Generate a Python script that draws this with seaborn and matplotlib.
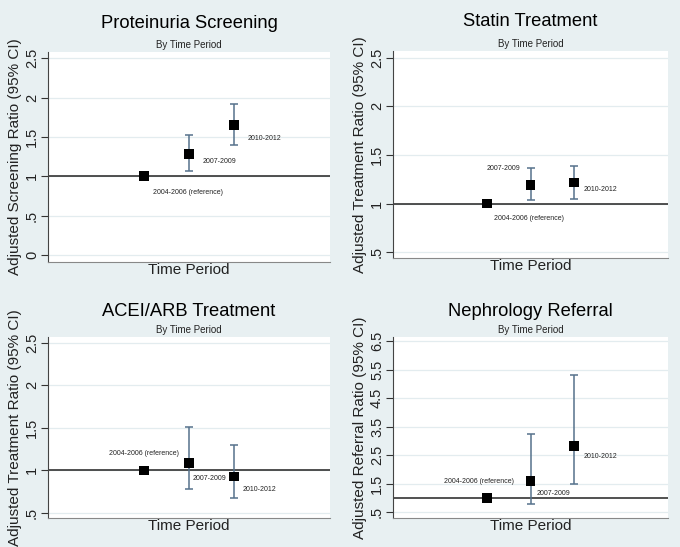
import matplotlib
matplotlib.use("Agg")
import matplotlib.pyplot as plt
import seaborn as sns
import pandas as pd

# Adjusted ratios by time period
periods = ["2004-2006 (reference)", "2007-2009", "2010-2012"]
period_pos = [1, 2, 3]

titles = ["Proteinuria Screening", "Statin Treatment",
          "ACEI/ARB Treatment", "Nephrology Referral"]
ylabels = ["Adjusted Screening Ratio (95% CI)", "Adjusted Treatment Ratio (95% CI)",
           "Adjusted Treatment Ratio (95% CI)", "Adjusted Referral Ratio (95% CI)"]

screening_ratio = [1.0, 1.28, 1.65]
screening_lo = [1.0, 1.07, 1.40]
screening_hi = [1.0, 1.53, 1.92]

statin_ratio = [1.0, 1.19, 1.215]
statin_lo = [1.0, 1.04, 1.05]
statin_hi = [1.0, 1.37, 1.39]

acei_ratio = [1.0, 1.09, 0.93]
acei_lo = [1.0, 0.78, 0.67]
acei_hi = [1.0, 1.515, 1.30]

referral_ratio = [1.0, 1.59, 2.81]
referral_lo = [1.0, 0.78, 1.50]
referral_hi = [1.0, 3.25, 5.31]

ticks_screening = [0, 0.5, 1, 1.5, 2, 2.5]
ticklabels_screening = ["0", ".5", "1", "1.5", "2", "2.5"]
ticks_treatment = [0.5, 1, 1.5, 2, 2.5]
ticklabels_treatment = [".5", "1", "1.5", "2", "2.5"]
ticks_referral = [0.5, 1.5, 2.5, 3.5, 4.5, 5.5, 6.5]
ticklabels_referral = [".5", "1.5", "2.5", "3.5", "4.5", "5.5", "6.5"]

series = [
    (screening_ratio, screening_lo, screening_hi),
    (statin_ratio, statin_lo, statin_hi),
    (acei_ratio, acei_lo, acei_hi),
    (referral_ratio, referral_lo, referral_hi),
]
tick_sets = [
    (ticks_screening, ticklabels_screening),
    (ticks_treatment, ticklabels_treatment),
    (ticks_treatment, ticklabels_treatment),
    (ticks_referral, ticklabels_referral),
]

# layout / styling (pixels in a 680x547 canvas)
axes_px = [(48, 52, 330, 262), (393, 51, 668, 258),
           (48, 337, 330, 518), (393, 337, 668, 518)]
ylims = [(-0.09, 2.58), (0.44, 2.57), (0.44, 2.57), (0.29, 6.65)]
# label offsets in pixels (dx, dy) and alignment
label_place = [
    [(9, -16, "left"), (14, -7, "left"), (14, -13, "left")],
    [(7, -15, "left"), (-10, 17, "right"), (9, -7, "left")],
    [(0, 17, "center"), (4, -16, "left"), (9, -13, "left")],
    [(-8, 16, "center"), (6, -12, "left"), (9, -10, "left")],
]

bg = "#E8F0F2"
bar_color = "#56728C"
grid_color = "#E3ECEF"

sns.set_style("white")
plt.rcParams["font.family"] = ["Liberation Sans", "DejaVu Sans"]

W, H = 680, 547
fig = plt.figure(figsize=(W / 100, H / 100), dpi=100, facecolor=bg)

for i in range(4):
    l, t, r, b = axes_px[i]
    ax = fig.add_axes([l / W, 1 - b / H, (r - l) / W, (b - t) / H])
    ratio, lo, hi = series[i]

    df = pd.DataFrame({"pos": period_pos, "ratio": ratio, "lo": lo, "hi": hi,
                       "period": periods})

    ticks, tlabels = tick_sets[i]
    for tk in ticks:
        ax.axhline(tk, color=grid_color, lw=0.9, zorder=0)

    ax.axhline(1, color="#222222", lw=1.1, zorder=1)

    # confidence intervals (reference period has none)
    ci = df.iloc[1:]
    ax.errorbar(ci["pos"], ci["ratio"],
                yerr=[ci["ratio"] - ci["lo"], ci["hi"] - ci["ratio"]],
                fmt="none", ecolor=bar_color, elinewidth=1.1, capsize=3.2,
                capthick=1.1, zorder=2)

    sns.scatterplot(data=df, x="pos", y="ratio", marker="s", s=48,
                    color="black", edgecolor="none", ax=ax, zorder=3)

    for j in range(3):
        dx, dy, ha = label_place[i][j]
        ax.annotate(periods[j], (period_pos[j], ratio[j]), xytext=(dx, dy),
                    textcoords="offset pixels", ha=ha, va="center",
                    fontsize=5, color="#222222")

    ax.set_xticks([])
    ax.set_yticks(ticks)
    ax.set_yticklabels(tlabels, rotation=90, va="center", fontsize=10.5,
                       color="#222222")
    ax.set_xlim(-1.15, 5.15)
    ax.set_ylim(*ylims[i])
    ax.tick_params(axis="y", length=5, width=0.8, pad=1.5, color="#333333",
                   left=True)
    ax.set_xlabel("")
    ax.set_ylabel(ylabels[i], fontsize=11, color="#222222", labelpad=2)

    for s in ["top", "right"]:
        ax.spines[s].set_visible(False)
    ax.spines["left"].set_color("#444444")
    ax.spines["bottom"].set_color("#888888")
    ax.spines["left"].set_linewidth(0.8)
    ax.spines["bottom"].set_linewidth(0.8)

    title_off = 29 if i < 2 else 25
    ax.annotate(titles[i], (0.5, 1), xycoords="axes fraction",
                xytext=(0, title_off), textcoords="offset pixels",
                ha="center", va="center", fontsize=13.2, color="black")
    ax.annotate("By Time Period", (0.5, 1), xycoords="axes fraction",
                xytext=(0, 7), textcoords="offset pixels",
                ha="center", va="center", fontsize=7, color="#222222")
    ax.annotate("Time Period", (0.5, 0), xycoords="axes fraction",
                xytext=(0, -8), textcoords="offset pixels",
                ha="center", va="center", fontsize=11, color="#222222")

fig.savefig("out.png", dpi=100, facecolor=bg)
